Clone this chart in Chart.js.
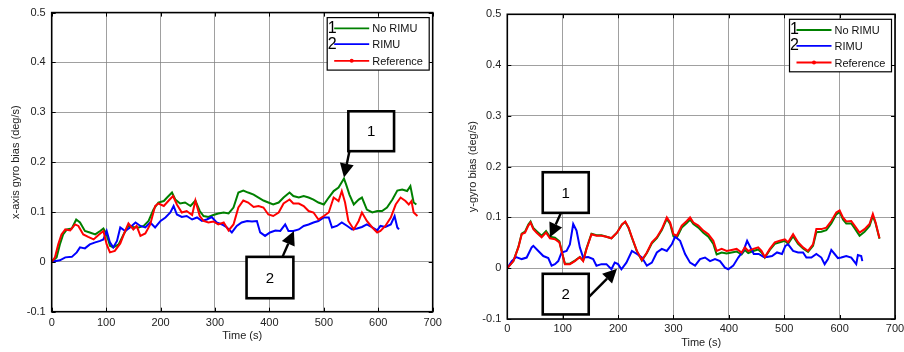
<!DOCTYPE html>
<html>
<head>
<meta charset="utf-8">
<script src="https://cdn.jsdelivr.net/npm/chart.js@4.4.0/dist/chart.umd.min.js"></script>
<style>
  html, body { margin: 0; padding: 0; background: #fff; overflow: hidden; width: 904px; height: 352px; }
  #leftChart { position: absolute; left: 0; top: 0; }
  #rightChart { position: absolute; left: 452px; top: 0; }
</style>
</head>
<body>
<canvas id="leftChart" width="452" height="352"></canvas>
<canvas id="rightChart" width="470" height="352"></canvas>
<script>
// [time (s), bias (deg/s)]
const leftNoRimu = [[0,0],[9,0.009],[15,0.035],[21,0.055],[28,0.065],[37,0.067],[45,0.085],[52,0.079],[61,0.062],[70,0.059],[80,0.055],[89,0.062],[95,0.067],[101,0.055],[107,0.032],[113,0.029],[123,0.035],[132,0.055],[141,0.072],[150,0.07],[160,0.069],[169,0.072],[178,0.082],[187,0.105],[196,0.119],[206,0.122],[212,0.129],[221,0.139],[227,0.125],[236,0.117],[245,0.119],[255,0.112],[264,0.123],[272,0.102],[279,0.092],[288,0.09],[297,0.094],[306,0.097],[316,0.099],[325,0.097],[334,0.109],[343,0.139],[352,0.143],[361,0.139],[371,0.135],[380,0.129],[389,0.123],[398,0.119],[407,0.115],[417,0.119],[426,0.129],[437,0.139],[444,0.132],[454,0.129],[463,0.132],[472,0.129],[481,0.125],[490,0.119],[500,0.115],[509,0.129],[518,0.142],[527,0.149],[537,0.167],[541,0.155],[547,0.135],[555,0.115],[564,0.125],[570,0.129],[579,0.105],[589,0.099],[598,0.102],[607,0.102],[616,0.109],[626,0.125],[635,0.143],[644,0.145],[653,0.142],[659,0.152],[665,0.119],[670,0.115]];
const leftRimu = [[0,0],[15,0.003],[25,0.009],[37,0.01],[46,0.019],[52,0.029],[61,0.027],[70,0.035],[80,0.039],[89,0.042],[95,0.045],[101,0.062],[107,0.039],[113,0.029],[120,0.042],[126,0.069],[135,0.062],[144,0.069],[154,0.079],[163,0.072],[172,0.069],[181,0.079],[190,0.069],[200,0.082],[209,0.089],[218,0.099],[224,0.112],[230,0.095],[239,0.09],[248,0.092],[258,0.085],[267,0.089],[276,0.082],[285,0.085],[294,0.09],[303,0.079],[313,0.075],[322,0.069],[331,0.059],[340,0.072],[349,0.079],[359,0.082],[368,0.081],[377,0.082],[383,0.059],[392,0.052],[401,0.059],[411,0.063],[420,0.062],[429,0.075],[435,0.062],[444,0.062],[454,0.065],[463,0.072],[472,0.075],[481,0.079],[490,0.082],[500,0.089],[509,0.089],[515,0.069],[524,0.072],[533,0.079],[543,0.072],[552,0.065],[561,0.067],[570,0.07],[579,0.075],[589,0.069],[598,0.063],[604,0.072],[613,0.07],[623,0.075],[630,0.092],[635,0.069],[638,0.065]];
const leftReference = [[0,0],[6,0.009],[12,0.035],[18,0.055],[25,0.065],[34,0.063],[43,0.075],[49,0.072],[58,0.055],[67,0.05],[77,0.045],[86,0.054],[95,0.062],[101,0.035],[107,0.019],[116,0.022],[126,0.037],[135,0.062],[141,0.077],[150,0.065],[156,0.072],[163,0.052],[172,0.057],[181,0.075],[190,0.112],[196,0.117],[206,0.112],[215,0.123],[223,0.132],[230,0.115],[239,0.099],[248,0.102],[258,0.094],[264,0.123],[272,0.092],[279,0.082],[288,0.079],[297,0.081],[306,0.075],[316,0.079],[325,0.063],[334,0.075],[343,0.109],[352,0.123],[361,0.119],[371,0.11],[380,0.112],[389,0.109],[398,0.095],[407,0.092],[417,0.099],[426,0.117],[437,0.125],[444,0.117],[454,0.117],[463,0.112],[472,0.102],[481,0.099],[490,0.085],[500,0.092],[509,0.099],[518,0.129],[527,0.122],[533,0.142],[539,0.119],[545,0.082],[555,0.065],[564,0.082],[570,0.099],[579,0.082],[589,0.069],[598,0.059],[604,0.062],[613,0.072],[623,0.089],[632,0.115],[641,0.129],[650,0.122],[656,0.115],[661,0.122],[665,0.099],[672,0.092]];

const rightNoRimu = [[0,0],[11,0.014],[20,0.042],[26,0.068],[32,0.072],[38,0.086],[42,0.092],[47,0.079],[53,0.073],[62,0.064],[70,0.073],[77,0.062],[86,0.06],[94,0.053],[98,0.035],[104,0.009],[113,0.009],[122,0.015],[131,0.022],[137,0.015],[143,0.039],[152,0.068],[161,0.065],[170,0.065],[179,0.062],[188,0.059],[198,0.07],[207,0.086],[213,0.091],[219,0.079],[225,0.06],[234,0.033],[243,0.015],[252,0.03],[261,0.049],[270,0.059],[279,0.075],[288,0.097],[294,0.087],[300,0.063],[306,0.06],[315,0.08],[324,0.089],[330,0.096],[336,0.087],[345,0.08],[354,0.07],[363,0.062],[372,0.048],[378,0.027],[387,0.031],[396,0.029],[405,0.031],[414,0.033],[423,0.027],[429,0.036],[435,0.03],[444,0.034],[453,0.037],[459,0.031],[465,0.021],[474,0.036],[483,0.048],[492,0.051],[501,0.054],[507,0.048],[516,0.063],[525,0.048],[534,0.039],[543,0.032],[552,0.044],[558,0.071],[567,0.072],[576,0.075],[585,0.088],[594,0.106],[600,0.111],[606,0.096],[612,0.088],[621,0.088],[627,0.079],[636,0.064],[645,0.072],[654,0.083],[660,0.103],[665,0.088],[672,0.058]];
const rightRimu = [[0,0],[8,0.014],[16,0.022],[26,0.018],[35,0.021],[44,0.041],[47,0.044],[56,0.034],[65,0.024],[74,0.02],[80,0.005],[86,0.008],[92,0.014],[98,0.031],[107,0.034],[113,0.047],[119,0.087],[125,0.074],[131,0.041],[137,0.021],[146,0.022],[155,0.018],[161,0.005],[170,0.008],[179,0.008],[188,-0.002],[194,0.011],[200,0.008],[206,-0.002],[215,0.011],[225,0.034],[234,0.028],[243,0.021],[252,0.005],[261,0.011],[270,0.031],[279,0.038],[288,0.034],[297,0.047],[303,0.062],[312,0.054],[321,0.028],[330,0.011],[339,0.005],[348,0.018],[357,0.021],[366,0.014],[375,0.018],[384,0.014],[393,0.001],[399,-0.002],[408,0.005],[417,0.021],[427,0.036],[433,0.054],[439,0.041],[445,0.028],[454,0.028],[463,0.022],[469,0.022],[478,0.024],[487,0.031],[496,0.028],[502,0.044],[507,0.047],[516,0.034],[525,0.031],[534,0.031],[540,0.021],[549,0.021],[558,0.028],[567,0.021],[573,0.008],[579,0.018],[585,0.036],[591,0.028],[597,0.02],[603,0.021],[612,0.024],[621,0.021],[630,0.008],[633,0.026],[639,0.024],[641,0.014]];
const rightReference = [[0,0],[11,0.014],[20,0.041],[26,0.067],[32,0.07],[38,0.084],[42,0.09],[47,0.077],[53,0.07],[62,0.061],[70,0.07],[77,0.059],[86,0.057],[94,0.051],[98,0.034],[104,0.008],[113,0.008],[122,0.014],[131,0.022],[137,0.014],[143,0.038],[152,0.067],[161,0.064],[170,0.064],[179,0.062],[188,0.059],[198,0.07],[207,0.086],[213,0.092],[219,0.08],[225,0.061],[234,0.034],[243,0.016],[252,0.031],[261,0.051],[270,0.061],[279,0.077],[288,0.1],[294,0.09],[300,0.067],[306,0.064],[315,0.084],[324,0.093],[330,0.1],[336,0.09],[345,0.084],[354,0.074],[363,0.067],[372,0.054],[378,0.034],[387,0.038],[396,0.034],[405,0.036],[414,0.038],[423,0.031],[429,0.041],[435,0.034],[444,0.038],[453,0.041],[459,0.034],[465,0.022],[474,0.038],[483,0.051],[492,0.054],[501,0.057],[507,0.051],[516,0.067],[525,0.051],[534,0.041],[543,0.034],[552,0.047],[558,0.077],[567,0.077],[576,0.08],[585,0.093],[594,0.11],[600,0.114],[606,0.1],[612,0.092],[621,0.093],[627,0.084],[636,0.07],[645,0.077],[654,0.087],[660,0.107],[665,0.09],[672,0.059]];

const seriesNames = ['No RIMU', 'RIMU', 'Reference'];
const seriesColors = ['#008000', '#0000ff', '#ff0000'];
const timeTicks = [0, 700, 100];      // min, max, step
const biasTicks = [-0.1, 0.5, 0.1];   // min, max, step

// numbered callouts, in data units: box corners, arrow start, arrow tip
const leftNotes = [
    { text: '1', box: [545, 0.302, 629, 0.222], from: [547, 0.222], to: [537, 0.169] },
    { text: '2', box: [358, 0.010, 444, -0.073], from: [424, 0.010], to: [445, 0.062] }
];
const rightNotes = [
    { text: '1', box: [64, 0.189, 147, 0.109], from: [97, 0.109], to: [77, 0.061] },
    { text: '2', box: [64, -0.011, 147, -0.091], from: [147, -0.057], to: [198, -0.001] }
];

const FONT = "'Liberation Sans', Arial, sans-serif";

// рамка в стилі MATLAB, легенда і виноски
function matlabPlugin(notes) {
    return {
        id: 'matlab',
        afterDatasetsDraw(chart) {
            const ctx = chart.ctx, a = chart.chartArea;
            const xs = chart.scales.x, ys = chart.scales.y;
            ctx.save();

            // inner tick marks
            ctx.strokeStyle = '#000';
            ctx.lineWidth = 1;
            ctx.beginPath();
            xs.ticks.forEach(t => {
                const px = Math.round(xs.getPixelForValue(t.value)) + 0.5;
                ctx.moveTo(px, a.top); ctx.lineTo(px, a.top + 4);
                ctx.moveTo(px, a.bottom); ctx.lineTo(px, a.bottom - 4);
            });
            ys.ticks.forEach(t => {
                const py = Math.round(ys.getPixelForValue(t.value)) + 0.5;
                ctx.moveTo(a.left, py); ctx.lineTo(a.left + 4, py);
                ctx.moveTo(a.right, py); ctx.lineTo(a.right - 4, py);
            });
            ctx.stroke();

            ctx.lineWidth = 1.6;
            ctx.strokeRect(a.left, a.top, a.right - a.left, a.bottom - a.top);

            // callouts
            notes.forEach(n => {
                const x0 = xs.getPixelForValue(n.box[0]), y0 = ys.getPixelForValue(n.box[1]);
                const x1 = xs.getPixelForValue(n.box[2]), y1 = ys.getPixelForValue(n.box[3]);
                ctx.fillStyle = '#fff';
                ctx.fillRect(x0, y0, x1 - x0, y1 - y0);
                ctx.lineWidth = 2.6;
                ctx.strokeStyle = '#000';
                ctx.strokeRect(x0, y0, x1 - x0, y1 - y0);
                ctx.fillStyle = '#000';
                ctx.font = '15px ' + FONT;
                ctx.textAlign = 'center';
                ctx.textBaseline = 'middle';
                ctx.fillText(n.text, (x0 + x1) / 2, (y0 + y1) / 2 + 1);

                const fx = xs.getPixelForValue(n.from[0]), fy = ys.getPixelForValue(n.from[1]);
                const tx = xs.getPixelForValue(n.to[0]), ty = ys.getPixelForValue(n.to[1]);
                const ang = Math.atan2(ty - fy, tx - fx);
                const headLen = 14, headW = 7;
                const bx = tx - headLen * Math.cos(ang), by = ty - headLen * Math.sin(ang);
                ctx.beginPath();
                ctx.moveTo(fx, fy);
                ctx.lineTo(bx, by);
                ctx.lineWidth = 2.4;
                ctx.stroke();
                ctx.beginPath();
                ctx.moveTo(tx, ty);
                ctx.lineTo(bx + headW * Math.sin(ang), by - headW * Math.cos(ang));
                ctx.lineTo(bx - headW * Math.sin(ang), by + headW * Math.cos(ang));
                ctx.closePath();
                ctx.fill();
            });

            // legend box
            const w = 102, h = 52.5;
            const lx = a.right - 3.5 - w, ly = a.top + 5;
            ctx.fillStyle = '#fff';
            ctx.fillRect(lx, ly, w, h);
            ctx.lineWidth = 1.2;
            ctx.strokeStyle = '#000';
            ctx.strokeRect(lx, ly, w, h);
            const rows = [10.7, 26.5, 43.2];
            seriesNames.forEach((name, i) => {
                const ry = ly + rows[i];
                ctx.strokeStyle = seriesColors[i];
                ctx.lineWidth = 1.8;
                ctx.beginPath();
                ctx.moveTo(lx + 7, ry);
                ctx.lineTo(lx + 42, ry);
                ctx.stroke();
                if (i === 2) {
                    ctx.fillStyle = seriesColors[i];
                    ctx.beginPath();
                    ctx.arc(lx + 24.5, ry, 2, 0, Math.PI * 2);
                    ctx.fill();
                } else {
                    ctx.fillStyle = '#000';
                    ctx.font = '16px ' + FONT;
                    ctx.textAlign = 'left';
                    ctx.textBaseline = 'middle';
                    ctx.fillText(String(i + 1), lx + 0.5, ry);
                }
                ctx.fillStyle = '#111';
                ctx.font = '11px ' + FONT;
                ctx.textAlign = 'left';
                ctx.textBaseline = 'middle';
                ctx.fillText(name, lx + 45, ry + 1);
            });
            ctx.restore();
        }
    };
}

function makeChart(id, series, notes, yTitle, box) {
    const datasets = series.map((pts, i) => ({
        label: seriesNames[i],
        data: pts.map(p => ({ x: p[0], y: p[1] })),
        borderColor: seriesColors[i],
        borderWidth: 2,
        pointRadius: 0,
        showLine: true,
        tension: 0,
        order: 2 - i // Reference is drawn on top
    }));
    return new Chart(document.getElementById(id).getContext('2d'), {
        type: 'scatter',
        data: { datasets },
        plugins: [matlabPlugin(notes)],
        options: {
            responsive: false,
            animation: false,
            devicePixelRatio: 1,
            layout: { padding: { left: 0, top: box.top, right: box.right, bottom: 0 } },
            plugins: { legend: { display: false }, tooltip: { enabled: false } },
            scales: {
                x: {
                    type: 'linear',
                    min: timeTicks[0], max: timeTicks[1],
                    ticks: { stepSize: timeTicks[2], color: '#222', padding: box.xTickPad, font: { family: FONT, size: 11 } },
                    grid: { color: 'rgba(128,128,128,0.75)', lineWidth: 1, drawTicks: false },
                    border: { display: false },
                    title: { display: true, text: 'Time (s)', color: '#222', font: { family: FONT, size: 11 }, padding: { top: 0, bottom: box.xTitlePad } },
                    afterFit: s => { s.height = box.xHeight; }
                },
                y: {
                    type: 'linear',
                    min: biasTicks[0], max: biasTicks[1],
                    ticks: {
                        stepSize: biasTicks[2], color: '#222', padding: 6, font: { family: FONT, size: 11 },
                        callback: v => String(Number(v.toFixed(1)))
                    },
                    grid: { color: 'rgba(128,128,128,0.75)', lineWidth: 1, drawTicks: false },
                    border: { display: false },
                    title: { display: true, text: yTitle, color: '#222', font: { family: FONT, size: 11 }, padding: { top: box.yTitlePad, bottom: 0 } },
                    afterFit: s => { s.width = box.yWidth; }
                }
            }
        }
    });
}

makeChart('leftChart', [leftNoRimu, leftRimu, leftReference], leftNotes, 'x-axis gyro bias (deg/s)',
    { top: 12, right: 19.3, yWidth: 51.7, xHeight: 40.3, xTickPad: 4.5, xTitlePad: 9.4, yTitlePad: 9.4 });
makeChart('rightChart', [rightNoRimu, rightRimu, rightReference], rightNotes, 'y-gyro bias (deg/s)',
    { top: 14.3, right: 27, yWidth: 55.3, xHeight: 33, xTickPad: 3.8, xTitlePad: 2.4, yTitlePad: 14.1 });
</script>
</body>
</html>
